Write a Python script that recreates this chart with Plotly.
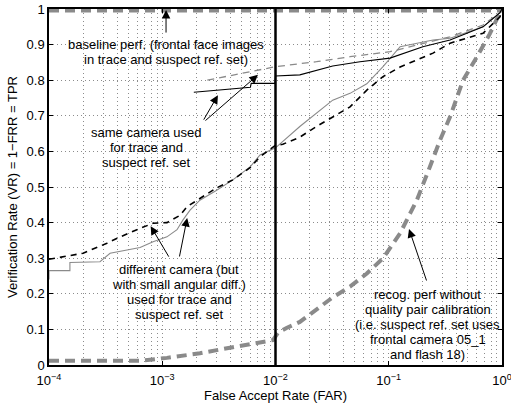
import plotly.graph_objects as go
import math

# ---------------- data (FAR, VR) ----------------
far_base = [1e-4, 1.0]
vr_base = [0.996, 0.996]

far_sc_solid = [1.9e-3, 4.0e-3, 6.0e-3, 6.1e-3, 9.9e-3, 1.0e-2, 1.4e-2, 1.64e-2, 3.2e-2, 5.57e-2,
                0.1026, 0.20, 0.348, 0.68, 0.96, 1.0]
vr_sc_solid = [0.766, 0.774, 0.78, 0.791, 0.791, 0.812, 0.813, 0.815, 0.84, 0.852,
               0.862, 0.894, 0.913, 0.95, 0.99, 1.0]

far_sc_dash = [2.5e-3, 6.0e-3, 1.0e-2, 2.3e-2, 4.55e-2, 0.1026, 0.178, 0.348, 0.68, 0.96, 1.0]
vr_sc_dash = [0.80, 0.823, 0.838, 0.852, 0.866, 0.88, 0.899, 0.922, 0.955, 0.99, 1.0]

far_dc_dash = [1e-4, 2.0e-4, 3.25e-4, 4.0e-4, 6.37e-4, 8.3e-4, 1.1e-3, 1.43e-3, 1.66e-3, 2.15e-3,
               3.0e-3, 4.2e-3, 6.0e-3, 7.3e-3, 1.0e-2, 1.16e-2, 1.64e-2, 2.3e-2, 3.2e-2, 4.55e-2,
               6.4e-2, 8.9e-2, 0.126, 0.178, 0.246, 0.348, 0.68, 0.96, 1.0]
vr_dc_dash = [0.297, 0.314, 0.342, 0.356, 0.384, 0.398, 0.40, 0.42, 0.445, 0.468,
              0.497, 0.52, 0.555, 0.585, 0.617, 0.62, 0.64, 0.67, 0.697, 0.725,
              0.772, 0.81, 0.837, 0.857, 0.876, 0.904, 0.932, 0.978, 1.0]

far_dc_solid = [1e-4, 1e-4, 1.53e-4, 1.53e-4, 2.82e-4, 3.46e-4, 6.37e-4, 8.3e-4, 1.1e-3, 1.35e-3,
                1.52e-3, 1.76e-3, 2.15e-3, 3.0e-3, 4.2e-3, 6.0e-3, 7.3e-3, 1.0e-2, 1.64e-2, 2.3e-2,
                3.2e-2, 4.55e-2, 6.4e-2, 8.9e-2, 0.126, 0.178, 0.246, 0.348, 0.68, 0.96, 1.0]
vr_dc_solid = [0.24, 0.265, 0.265, 0.288, 0.29, 0.314, 0.33, 0.346, 0.36, 0.38,
               0.407, 0.435, 0.463, 0.49, 0.52, 0.557, 0.59, 0.61, 0.67, 0.707,
               0.744, 0.763, 0.79, 0.838, 0.894, 0.904, 0.913, 0.918, 0.95, 0.99, 1.0]

far_nocal = [1e-4, 6.37e-4, 1.1e-3, 2.15e-3, 4.2e-3, 6.3e-3, 9.5e-3, 1.05e-2, 1.25e-2, 1.64e-2,
             2.1e-2, 3.2e-2, 4.55e-2, 6.4e-2, 8.9e-2, 0.126, 0.154, 0.178, 0.231, 0.284,
             0.348, 0.453, 0.601, 0.78, 0.96, 1.0]
vr_nocal = [0.012, 0.012, 0.02, 0.033, 0.05, 0.061, 0.07, 0.09, 0.104, 0.121,
            0.146, 0.19, 0.22, 0.257, 0.30, 0.37, 0.425, 0.465, 0.557, 0.632,
            0.697, 0.80, 0.866, 0.93, 0.99, 1.0]

far_threshold = [1e-2, 1e-2]
vr_threshold = [0.0, 1.0]

x_tickvals = [1e-4, 1e-3, 1e-2, 1e-1, 1.0]
x_ticktext = ["10<sup>\u22124</sup>", "10<sup>\u22123</sup>", "10<sup>\u22122</sup>",
              "10<sup>\u22121</sup>", "10<sup>0</sup>"]
y_tickvals = [0, 0.1, 0.2, 0.3, 0.4, 0.5, 0.6, 0.7, 0.8, 0.9, 1.0]
y_ticktext = ["0", "0.1", "0.2", "0.3", "0.4", "0.5", "0.6", "0.7", "0.8", "0.9", "1"]

text_blocks = [
    (1.077e-3, 0.878, ["baseline perf. (frontal face images", "in trace and suspect ref. set)"]),
    (7.2e-4, 0.612, ["same camera used", "for trace and", "suspect ref. set"]),
    (1.41e-3, 0.205, ["different camera (but", "with small angular diff.)", "used for trace and", "suspect ref. set"]),
    (0.222, 0.115, ["recog. perf without", "quality pair calibration", "(i.e. suspect ref. set uses",
                    "frontal camera 05_1", "and flash 18)"]),
]
# arrows: (tip FAR, tip VR, tail dx px, tail dy px)
arrows = [
    (1.08e-3, 0.997, 0, 24),
    (3.1e-3, 0.758, -15, 26),
    (7.0e-3, 0.815, -54, 47),
    (7.9e-4, 0.39, 19, 32),
    (1.66e-3, 0.413, -8, 40),
    (0.151, 0.382, 18, 53),
]

GRAY = "#8a8a8a"
FONT = "Liberation Sans, Arial, Helvetica, sans-serif"

fig = go.Figure()
fig.add_trace(go.Scatter(x=far_base, y=vr_base, mode="lines",
                         line=dict(color=GRAY, width=4, dash="10px,6px")))
fig.add_trace(go.Scatter(x=far_nocal, y=vr_nocal, mode="lines",
                         line=dict(color=GRAY, width=4, dash="10px,6px")))
fig.add_trace(go.Scatter(x=far_dc_solid, y=vr_dc_solid, mode="lines",
                         line=dict(color=GRAY, width=1.1)))
fig.add_trace(go.Scatter(x=far_dc_dash, y=vr_dc_dash, mode="lines",
                         line=dict(color="black", width=1.6, dash="6px,5px")))
fig.add_trace(go.Scatter(x=far_sc_dash, y=vr_sc_dash, mode="lines",
                         line=dict(color=GRAY, width=1.3, dash="7px,5px")))
fig.add_trace(go.Scatter(x=far_sc_solid, y=vr_sc_solid, mode="lines",
                         line=dict(color="black", width=1.1)))
fig.add_trace(go.Scatter(x=far_threshold, y=vr_threshold, mode="lines",
                         line=dict(color="black", width=2.5)))

annotations = []
LINE_H = 15
for fx, vy, lines in text_blocks:
    n = len(lines)
    for i, t in enumerate(lines):
        annotations.append(dict(x=math.log10(fx), y=vy, xref="x", yref="y", text=t,
                                showarrow=False, xanchor="center", yanchor="middle",
                                yshift=((n - 1) / 2 - i) * LINE_H,
                                font=dict(size=13, color="black", family=FONT)))
for fx, vy, dx, dy in arrows:
    annotations.append(dict(x=math.log10(fx), y=vy, xref="x", yref="y", text="",
                            showarrow=True, ax=dx, ay=dy, arrowhead=2, arrowsize=1.7,
                            arrowwidth=1, arrowcolor="black", standoff=0, startstandoff=0))

GRIDC = "#8c8c8c"
GDASH = "1px,3px"
grid = dict(showgrid=True, gridcolor=GRIDC, gridwidth=1, griddash=GDASH)
fig.update_layout(
    width=511, height=409, autosize=False,
    margin=dict(l=49, r=9, t=9, b=44, autoexpand=False),
    paper_bgcolor="white", plot_bgcolor="white",
    showlegend=False,
    font=dict(family=FONT, size=13, color="black"),
    annotations=annotations,
    xaxis=dict(type="log", range=[-4, 0], tickmode="array", tickvals=x_tickvals, ticktext=x_ticktext,
               ticks="inside", ticklen=4, tickcolor="black", showline=True, linecolor="black",
               linewidth=1.5, mirror="allticks", zeroline=False, automargin=False,
               ticklabeloverflow="allow", ticklabelstandoff=3,
               minor=dict(dtick="D1", showgrid=True, gridcolor=GRIDC, gridwidth=1, griddash=GDASH, ticks=""),
               title=dict(text="False Accept Rate (FAR)", font=dict(size=13), standoff=4),
               **grid),
    yaxis=dict(range=[0, 1], tickmode="array", tickvals=y_tickvals, ticktext=y_ticktext,
               ticks="inside", ticklen=4, tickcolor="black", showline=True, linecolor="black",
               linewidth=1.5, mirror="allticks", zeroline=False, automargin=False,
               ticklabeloverflow="allow",
               title=dict(text="Verification Rate (VR) = 1\u2212FRR = TPR", font=dict(size=13), standoff=6),
               **grid),
)
fig.write_html("out.html")
